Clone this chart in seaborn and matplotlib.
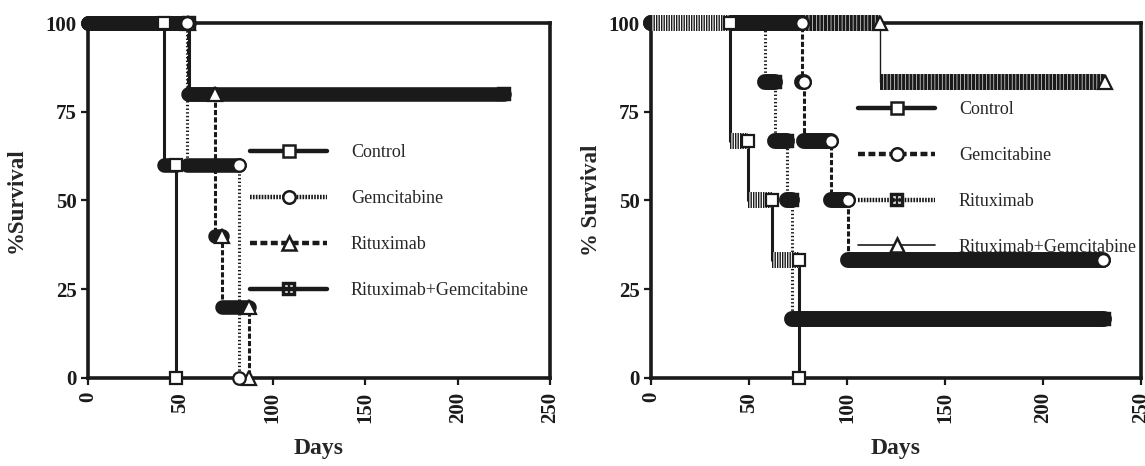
import numpy as np
import pandas as pd
import matplotlib
matplotlib.use('Agg')
import matplotlib.pyplot as plt
import seaborn as sns
from matplotlib.path import Path
from matplotlib.lines import Line2D

# 1. Dados (dias de cada queda da curva e % de sobrevida depois da queda)
GRUPOS = ['Control', 'Gemcitabine', 'Rituximab', 'Rituximab+Gemcitabine']

# painel esquerdo
L_CTRL_T = [0, 41, 47.5]
L_CTRL_S = [100, 60, 0]
L_GEM_T = [0, 53.5, 81.5]
L_GEM_S = [100, 60, 0]
L_RIT_T = [0, 54, 68.5, 72.5, 87]
L_RIT_S = [100, 80, 40, 20, 0]
L_RG_T = [0, 54.5]
L_RG_S = [100, 80]
L_FIM = [47.5, 81.5, 87, 225]      # ultimo dia de seguimento

# painel direito
R_CTRL_T = [0, 40.5, 49.5, 61.5, 75.5]
R_CTRL_S = [100, 66.7, 50, 33.3, 0]
R_GEM_T = [0, 77, 78, 92, 100.5]
R_GEM_S = [100, 83.3, 66.7, 50, 33.3]
R_RIT_T = [0, 58, 63.5, 69.5, 72]
R_RIT_S = [100, 83.3, 66.7, 50, 16.7]
R_RG_T = [0, 117]
R_RG_S = [100, 83.3]
R_FIM = [75.5, 230.5, 231, 231.5]

X_TICKS = [0, 50, 100, 150, 200, 250]
Y_TICKS = [0, 25, 50, 75, 100]

# 2. Visual
sns.set_theme(style='ticks')
plt.rcParams['font.family'] = ['Liberation Serif', 'DejaVu Serif']
plt.rcParams['lines.scale_dashes'] = False

# marcador quadrado preto com 4 pontos brancos
_ext = [(-1, -1), (1, -1), (1, 1), (-1, 1), (-1, -1)]
_verts, _codes = list(_ext), [Path.MOVETO] + [Path.LINETO] * 3 + [Path.CLOSEPOLY]
for cx in (-0.38, 0.38):
    for cy in (-0.38, 0.38):
        h = 0.2
        _verts += [(cx - h, cy - h), (cx - h, cy + h), (cx + h, cy + h), (cx + h, cy - h), (cx - h, cy - h)]
        _codes += [Path.MOVETO] + [Path.LINETO] * 3 + [Path.CLOSEPOLY]
QUAD_PONTOS = Path(_verts, _codes)

BRANCO = 'white'
estilos_esq = [
    dict(ls='-', lw=2.2, mk='s', ms=8.5, mfc=BRANCO, mew=1.6, barra='solida', leg_ls='-'),
    dict(ls=':', lw=2.2, mk='o', ms=9, mfc=BRANCO, mew=1.6, barra='solida', leg_ls=(0, (1.2, 0.9))),
    dict(ls='--', lw=2.2, mk='^', ms=10.5, mfc=BRANCO, mew=1.6, barra='solida', leg_ls=(0, (5, 2.5))),
    dict(ls='-', lw=2.2, mk=QUAD_PONTOS, ms=10, mfc='k', mew=0.3, barra='solida', leg_ls='-'),
]
estilos_dir = [
    dict(ls='-', lw=2.2, mk='s', ms=9, mfc=BRANCO, mew=1.6, barra=(0, (1.0, 0.8)), leg_ls='-'),
    dict(ls='--', lw=2.2, mk='o', ms=9, mfc=BRANCO, mew=1.6, barra='solida', leg_ls=(0, (5, 2.5))),
    dict(ls=':', lw=2.2, mk=QUAD_PONTOS, ms=10.5, mfc='k', mew=0.3, barra='solida', leg_ls=(0, (1.2, 0.9))),
    dict(ls='-', lw=1.0, mk='^', ms=10, mfc=BRANCO, mew=1.6, barra=(0, (2.2, 0.45)), leg_ls='-'),
]


def desenha_painel(ax, curvas, fins, estilos, esp_barra):
    # linhas em degrau
    for (t, s), fim, st in zip(curvas, fins, estilos):
        df = pd.DataFrame({'Days': list(t) + [fim], 'Survival': list(s) + [s[-1]]})
        sns.lineplot(data=df, x='Days', y='Survival', estimator=None, sort=False,
                     drawstyle='steps-post', color='k', linestyle=st['ls'],
                     linewidth=st['lw'], ax=ax, clip_on=False, zorder=2)
    # barras grossas (marcadores sobrepostos) - os grupos mais longos por baixo
    for (t, s), fim, st in reversed(list(zip(curvas, fins, estilos))):
        ini = list(t)
        fins_seg = list(t[1:]) + [fim]
        for a, b, nivel in zip(ini, fins_seg, s):
            if b - a <= 0:
                continue
            if st['barra'] == 'solida':
                ax.plot([a, b], [nivel, nivel], color='k', lw=esp_barra,
                        solid_capstyle='round', clip_on=False, zorder=3)
            else:
                ax.plot([a, b], [nivel, nivel], color=BRANCO, lw=esp_barra,
                        solid_capstyle='butt', clip_on=False, zorder=3)
                ax.plot([a, b], [nivel, nivel], color='k', lw=esp_barra,
                        linestyle=st['barra'], dash_capstyle='butt', clip_on=False, zorder=3)
    # marcadores no fim de cada degrau
    for (t, s), fim, st in reversed(list(zip(curvas, fins, estilos))):
        xs = list(t[1:]) + [fim]
        ys = list(s)
        ax.plot(xs, ys, linestyle='none', marker=st['mk'], ms=st['ms'], mfc=st['mfc'],
                mec='k', mew=st['mew'], clip_on=False, zorder=4)

    ax.set_xlim(0, 250)
    ax.set_ylim(0, 100)
    ax.set_xticks(X_TICKS)
    ax.set_yticks(Y_TICKS)
    ax.set_xticklabels([str(v) for v in X_TICKS], rotation=90, fontsize=15, fontweight='bold')
    ax.set_yticklabels([str(v) for v in Y_TICKS], fontsize=15, fontweight='bold')
    ax.tick_params(direction='out', length=5, width=1.6, pad=3, colors='k')
    ax.tick_params(axis='x', pad=5)
    for sp in ax.spines.values():
        sp.set_linewidth(2.6)
        sp.set_color('k')
        sp.set_visible(True)
    ax.set_xlabel('Days', fontsize=17, fontweight='bold')
    ax.xaxis.set_label_coords(0.5, -0.17)

    handles = [Line2D([], [], color='k', linestyle=st['leg_ls'], lw=(3.2 if st['lw'] > 1.5 else 1.2),
                      marker=st['mk'], ms=st['ms'], mfc=st['mfc'], mec='k',
                      mew=(1.8 if st['mew'] > 1 else 0.3))
               for st in estilos]
    return handles


fig = plt.figure(figsize=(11.45, 4.66), dpi=100)
ax1 = fig.add_axes([0.0769, 0.189, 0.4035, 0.7616])
ax2 = fig.add_axes([0.5686, 0.189, 0.4279, 0.7616])

h1 = desenha_painel(ax1, [(L_CTRL_T, L_CTRL_S), (L_GEM_T, L_GEM_S), (L_RIT_T, L_RIT_S), (L_RG_T, L_RG_S)],
                    L_FIM, estilos_esq, 10.5)
h2 = desenha_painel(ax2, [(R_CTRL_T, R_CTRL_S), (R_GEM_T, R_GEM_S), (R_RIT_T, R_RIT_S), (R_RG_T, R_RG_S)],
                    R_FIM, estilos_dir, 11.5)

ax1.set_ylabel('%Survival', fontsize=16.5, fontweight='bold')
ax1.yaxis.set_label_coords(-0.132, 0.5)
ax2.set_ylabel('% Survival', fontsize=16.5, fontweight='bold')
ax2.yaxis.set_label_coords(-0.1, 0.5)

leg_kw = dict(frameon=False, fontsize=13, handlelength=4.3, handletextpad=1.3,
              labelspacing=1.6, borderpad=0, borderaxespad=0, loc='center left')
ax1.legend(h1, GRUPOS, bbox_to_anchor=(0.35, 0.44), **leg_kw)
ax2.legend(h2, GRUPOS, bbox_to_anchor=(0.422, 0.562), **leg_kw)

plt.savefig('out.png', dpi=100)
